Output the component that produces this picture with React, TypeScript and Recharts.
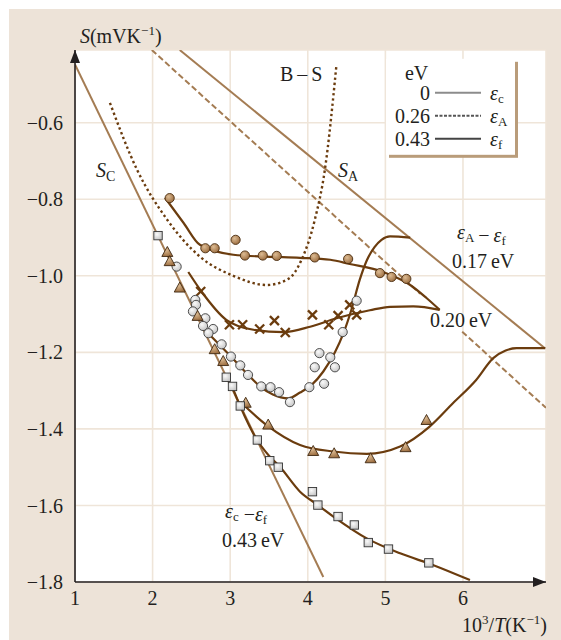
import React from "react";
import {
  ComposedChart, Line, Scatter, XAxis, YAxis, CartesianGrid, ReferenceDot,
} from "recharts";

type Pt = { x: number; y: number };

const serif = "'Liberation Serif', 'Times New Roman', serif";
const ink = "#231f20";
const tan = "#a47c53";
const brown = "#6b3c0e";

const xTicks = [1, 2, 3, 4, 5, 6];
const yTicks = [-1.8, -1.6, -1.4, -1.2, -1.0, -0.8, -0.6];

// limiting slopes S_C, S_A and the dashed asymptote (broken under the 0.20 eV label)
const scLine: Pt[] = [{ x: 1.0, y: -0.448 }, { x: 4.2, y: -1.787 }];
const saLine: Pt[] = [{ x: 2.35, y: -0.41 }, { x: 7.06, y: -1.19 }];
const dashUpper: Pt[] = [{ x: 1.99, y: -0.41 }, { x: 5.45, y: -1.047 }];
const dashLower: Pt[] = [{ x: 5.99, y: -1.146 }, { x: 7.07, y: -1.345 }];

// B–S curve (dotted)
const bsCurve: Pt[] = [
  { x: 1.45, y: -0.548 }, { x: 1.8, y: -0.723 }, { x: 2.19, y: -0.854 },
  { x: 2.61, y: -0.95 }, { x: 3.04, y: -1.0 }, { x: 3.47, y: -1.024 },
  { x: 3.75, y: -1.008 }, { x: 3.92, y: -0.958 }, { x: 4.09, y: -0.854 },
  { x: 4.22, y: -0.723 }, { x: 4.37, y: -0.448 },
];

// fitted curves
const brownFit: Pt[] = [
  { x: 2.16, y: -0.796 }, { x: 2.4, y: -0.862 }, { x: 2.61, y: -0.919 },
  { x: 3.04, y: -0.945 }, { x: 3.47, y: -0.95 }, { x: 3.9, y: -0.953 },
  { x: 4.29, y: -0.958 }, { x: 4.54, y: -0.969 }, { x: 4.97, y: -0.99 },
  { x: 5.32, y: -1.024 }, { x: 5.53, y: -1.058 }, { x: 5.7, y: -1.089 },
];
const crossFit: Pt[] = [
  { x: 2.46, y: -0.99 }, { x: 2.63, y: -1.041 }, { x: 2.95, y: -1.115 },
  { x: 3.3, y: -1.141 }, { x: 3.69, y: -1.147 }, { x: 4.03, y: -1.133 },
  { x: 4.37, y: -1.111 }, { x: 4.8, y: -1.09 }, { x: 5.06, y: -1.081 },
  { x: 5.36, y: -1.08 }, { x: 5.7, y: -1.089 },
];
const greyFit: Pt[] = [
  { x: 2.74, y: -1.155 }, { x: 3.01, y: -1.211 }, { x: 3.21, y: -1.254 },
  { x: 3.38, y: -1.288 }, { x: 3.55, y: -1.31 }, { x: 3.75, y: -1.32 },
  { x: 3.9, y: -1.305 }, { x: 4.05, y: -1.285 }, { x: 4.2, y: -1.25 },
  { x: 4.35, y: -1.2 }, { x: 4.46, y: -1.15 }, { x: 4.56, y: -1.09 },
  { x: 4.67, y: -1.01 }, { x: 4.76, y: -0.96 }, { x: 4.86, y: -0.925 },
  { x: 4.95, y: -0.906 }, { x: 5.06, y: -0.897 }, { x: 5.32, y: -0.9 },
];
const triFit: Pt[] = [
  { x: 3.13, y: -1.329 }, { x: 3.47, y: -1.39 }, { x: 3.9, y: -1.442 },
  { x: 4.33, y: -1.459 }, { x: 4.76, y: -1.465 }, { x: 5.19, y: -1.446 },
  { x: 5.57, y: -1.394 }, { x: 5.87, y: -1.333 }, { x: 6.17, y: -1.272 },
  { x: 6.39, y: -1.215 }, { x: 6.55, y: -1.195 }, { x: 6.69, y: -1.189 },
  { x: 7.06, y: -1.189 },
];
const squareFit: Pt[] = [
  { x: 3.04, y: -1.297 }, { x: 3.13, y: -1.341 }, { x: 3.34, y: -1.427 },
  { x: 3.5, y: -1.47 }, { x: 3.64, y: -1.499 }, { x: 3.9, y: -1.564 },
  { x: 4.13, y: -1.599 }, { x: 4.33, y: -1.629 }, { x: 4.76, y: -1.686 },
  { x: 5.19, y: -1.725 }, { x: 5.62, y: -1.756 }, { x: 6.09, y: -1.795 },
];

// measured points
const brownDots: Pt[] = [
  { x: 2.22, y: -0.797 }, { x: 2.68, y: -0.928 }, { x: 2.8, y: -0.928 },
  { x: 3.07, y: -0.906 }, { x: 3.19, y: -0.947 }, { x: 3.42, y: -0.947 },
  { x: 3.6, y: -0.948 }, { x: 4.09, y: -0.952 }, { x: 4.52, y: -0.956 },
  { x: 4.93, y: -0.993 }, { x: 5.08, y: -1.003 }, { x: 5.27, y: -1.008 },
];
const crosses: Pt[] = [
  { x: 2.62, y: -1.041 }, { x: 2.99, y: -1.128 }, { x: 3.16, y: -1.128 },
  { x: 3.38, y: -1.139 }, { x: 3.57, y: -1.117 }, { x: 3.71, y: -1.148 },
  { x: 4.06, y: -1.102 }, { x: 4.27, y: -1.128 }, { x: 4.39, y: -1.104 },
  { x: 4.54, y: -1.076 }, { x: 4.63, y: -1.102 },
];
const greyDots: Pt[] = [
  { x: 2.31, y: -0.976 }, { x: 2.55, y: -1.063 }, { x: 2.56, y: -1.076 },
  { x: 2.52, y: -1.093 }, { x: 2.68, y: -1.111 }, { x: 2.65, y: -1.131 },
  { x: 2.78, y: -1.139 }, { x: 2.72, y: -1.15 }, { x: 2.89, y: -1.179 },
  { x: 3.01, y: -1.211 }, { x: 3.13, y: -1.234 }, { x: 3.23, y: -1.259 },
  { x: 3.4, y: -1.289 }, { x: 3.52, y: -1.291 }, { x: 3.63, y: -1.304 },
  { x: 3.77, y: -1.33 }, { x: 4.02, y: -1.291 }, { x: 4.21, y: -1.282 },
  { x: 4.09, y: -1.239 }, { x: 4.15, y: -1.202 }, { x: 4.29, y: -1.213 },
  { x: 4.35, y: -1.239 }, { x: 4.45, y: -1.147 }, { x: 4.63, y: -1.065 },
];
const triangles: Pt[] = [
  { x: 2.19, y: -0.939 }, { x: 2.22, y: -0.963 }, { x: 2.35, y: -1.032 },
  { x: 2.58, y: -1.106 }, { x: 2.8, y: -1.193 }, { x: 2.91, y: -1.224 },
  { x: 3.2, y: -1.333 }, { x: 3.49, y: -1.39 }, { x: 4.07, y: -1.459 },
  { x: 4.34, y: -1.465 }, { x: 4.81, y: -1.478 }, { x: 5.26, y: -1.449 },
  { x: 5.53, y: -1.378 },
];
const squares: Pt[] = [
  { x: 2.07, y: -0.895 }, { x: 2.95, y: -1.265 }, { x: 3.03, y: -1.289 },
  { x: 3.13, y: -1.34 }, { x: 3.35, y: -1.429 }, { x: 3.51, y: -1.483 },
  { x: 3.62, y: -1.5 }, { x: 4.06, y: -1.564 }, { x: 4.13, y: -1.599 },
  { x: 4.39, y: -1.629 }, { x: 4.6, y: -1.651 }, { x: 4.78, y: -1.697 },
  { x: 5.04, y: -1.714 }, { x: 5.56, y: -1.75 },
];

// legend rows: energy (eV) and level name
const legendEnergy = ["0", "0.26", "0.43"];
const legendLevel = ["c", "A", "f"];
const legendStroke = ["#8c8c8c", "#555", "#444"];
const legendDash = [undefined, "3 1.5", undefined];

const BrownDot = (p: any) => (
  <circle cx={p.cx} cy={p.cy} r={4.6} fill="url(#gBrown)" stroke="#4a2c10" strokeWidth={0.9} />
);
const GreyDot = (p: any) => (
  <circle cx={p.cx} cy={p.cy} r={4.6} fill="url(#gGrey)" stroke="#3c3c3c" strokeWidth={0.9} />
);
const Cross = (p: any) => (
  <g stroke={brown} strokeWidth={2.3}>
    <line x1={p.cx - 4.5} y1={p.cy - 4.5} x2={p.cx + 4.5} y2={p.cy + 4.5} />
    <line x1={p.cx - 4.5} y1={p.cy + 4.5} x2={p.cx + 4.5} y2={p.cy - 4.5} />
  </g>
);
const Tri = (p: any) => (
  <polygon
    points={`${p.cx},${p.cy - 6} ${p.cx - 5.5},${p.cy + 4} ${p.cx + 5.5},${p.cy + 4}`}
    fill="url(#gBrown)" stroke="#3e2812" strokeWidth={0.9}
  />
);
const Square = (p: any) => (
  <rect x={p.cx - 4.2} y={p.cy - 4.2} width={8.4} height={8.4} fill="url(#gGrey)" stroke="#333" strokeWidth={0.9} />
);

function LegendBox(p: any) {
  const x = p.cx, y = p.cy;
  return (
    <g fontFamily={serif} fontSize={20} fill={ink}>
      <defs>
        <radialGradient id="gBrown" cx="38%" cy="35%" r="70%">
          <stop offset="0%" stopColor="#dcbb93" />
          <stop offset="100%" stopColor="#9a6b3d" />
        </radialGradient>
        <radialGradient id="gGrey" cx="38%" cy="35%" r="70%">
          <stop offset="0%" stopColor="#fafafa" />
          <stop offset="100%" stopColor="#c4c4c4" />
        </radialGradient>
      </defs>
      <rect x={x + 3} y={y + 3} width={129} height={96} fill="#b99c7a" />
      <rect x={x} y={y} width={129} height={96} fill="#fff" />
      <text x={x + 19} y={y + 21}>eV</text>
      {legendEnergy.map((e, i) => (
        <g key={e}>
          <text x={x + 44} y={y + 41 + i * 23} textAnchor="end">{e}</text>
          <line x1={x + 49} x2={x + 95} y1={y + 34 + i * 23} y2={y + 34 + i * 23}
            stroke={legendStroke[i]} strokeWidth={2} strokeDasharray={legendDash[i]} />
          <text x={x + 104} y={y + 41 + i * 23}>
            <tspan fontStyle="italic">ε</tspan>
            <tspan fontSize={13} dy={3}>{legendLevel[i]}</tspan>
          </text>
        </g>
      ))}
    </g>
  );
}

function note(key: string, x: number, y: number, body: React.ReactNode, anchor = "start") {
  return (
    <ReferenceDot
      key={key} x={x} y={y} ifOverflow="visible"
      shape={(p: any) => (
        <text x={p.cx} y={p.cy} textAnchor={anchor} fontFamily={serif} fontSize={20} fill={ink}>
          {body}
        </text>
      )}
    />
  );
}

const eps = (sub: string, k: string) => [
  <tspan key={k + "e"} fontStyle="italic">ε</tspan>,
  <tspan key={k + "s"} fontSize={13} dy={3}>{sub}</tspan>,
  <tspan key={k + "r"} dy={-3}>{""}</tspan>,
];

export default function App() {
  return (
    <div style={{ position: "absolute", left: 9, top: 9, width: 552, height: 631, background: "#ede3d8" }}>
      <ComposedChart width={552} height={631} margin={{ top: 41, right: 15, left: 0, bottom: 0 }}>
        <CartesianGrid fill="#fff" stroke="#efe5d9" strokeWidth={1.6} />
        <XAxis
          type="number" dataKey="x" domain={[1, 7.07]} ticks={xTicks} interval={0}
          allowDataOverflow height={58} tickSize={0} tickMargin={9}
          axisLine={{ stroke: ink, strokeWidth: 1.6 }}
          tick={{ fontFamily: serif, fontSize: 20, fill: ink }}
        />
        <YAxis
          type="number" dataKey="y" domain={[-1.8, -0.41]} ticks={yTicks} interval={0}
          allowDataOverflow width={66} tickSize={0} tickMargin={12}
          axisLine={{ stroke: ink, strokeWidth: 1.6 }}
          tick={{ fontFamily: serif, fontSize: 20, fill: ink }}
          tickFormatter={(v: number) => "\u2212" + Math.abs(v).toFixed(1)}
        />

        <Line data={scLine} dataKey="y" type="linear" stroke={tan} strokeWidth={2} dot={false} activeDot={false} isAnimationActive={false} />
        <Line data={saLine} dataKey="y" type="linear" stroke={tan} strokeWidth={2} dot={false} activeDot={false} isAnimationActive={false} />
        <Line data={dashUpper} dataKey="y" type="linear" stroke={tan} strokeWidth={2} strokeDasharray="6 3" dot={false} activeDot={false} isAnimationActive={false} />
        <Line data={dashLower} dataKey="y" type="linear" stroke={tan} strokeWidth={2} strokeDasharray="6 3" dot={false} activeDot={false} isAnimationActive={false} />
        <Line data={bsCurve} dataKey="y" type="monotone" stroke={brown} strokeWidth={2.4} strokeDasharray="2.4 2.8" dot={false} activeDot={false} isAnimationActive={false} />

        <Line data={brownFit} dataKey="y" type="monotone" stroke={brown} strokeWidth={2.2} dot={false} activeDot={false} isAnimationActive={false} />
        <Line data={crossFit} dataKey="y" type="monotone" stroke={brown} strokeWidth={2.2} dot={false} activeDot={false} isAnimationActive={false} />
        <Line data={greyFit} dataKey="y" type="monotone" stroke={brown} strokeWidth={2.2} dot={false} activeDot={false} isAnimationActive={false} />
        <Line data={triFit} dataKey="y" type="monotone" stroke={brown} strokeWidth={2.2} dot={false} activeDot={false} isAnimationActive={false} />
        <Line data={squareFit} dataKey="y" type="monotone" stroke={brown} strokeWidth={2.2} dot={false} activeDot={false} isAnimationActive={false} />

        <Scatter data={brownDots} shape={BrownDot} isAnimationActive={false} />
        <Scatter data={crosses} shape={Cross} isAnimationActive={false} />
        <Scatter data={greyDots} shape={GreyDot} isAnimationActive={false} />
        <Scatter data={triangles} shape={Tri} isAnimationActive={false} />
        <Scatter data={squares} shape={Square} isAnimationActive={false} />

        {/* legend box in the top right corner */}
        <ReferenceDot x={5.008} y={-0.433} ifOverflow="visible" shape={LegendBox} />

        {/* axis arrowheads */}
        <ReferenceDot x={1} y={-0.41} ifOverflow="visible"
          shape={(p: any) => <polygon points={`${p.cx},${p.cy} ${p.cx - 5},${p.cy + 13} ${p.cx + 5},${p.cy + 13}`} fill={ink} />} />
        <ReferenceDot x={7.07} y={-1.8} ifOverflow="visible"
          shape={(p: any) => <polygon points={`${p.cx},${p.cy} ${p.cx - 13},${p.cy - 5} ${p.cx - 13},${p.cy + 5}`} fill={ink} />} />

        {note("ytitle", 1.064, -0.391, [
          <tspan key="s" fontStyle="italic">S</tspan>,
          <tspan key="u">(mVK</tspan>,
          <tspan key="p" fontSize={13} dy={-8}>−1</tspan>,
          <tspan key="c" dy={8}>)</tspan>,
        ])}
        {note("xtitle", 7.082, -1.931, [
          <tspan key="a">10</tspan>,
          <tspan key="b" fontSize={13} dy={-8}>3</tspan>,
          <tspan key="c" dy={8}>/</tspan>,
          <tspan key="d" fontStyle="italic">T</tspan>,
          <tspan key="e">(K</tspan>,
          <tspan key="f" fontSize={13} dy={-8}>−1</tspan>,
          <tspan key="g" dy={8}>)</tspan>,
        ], "end")}
        {note("bs", 3.642, -0.49, "B\u2009–\u2009S")}
        {note("sc", 1.271, -0.741, [
          <tspan key="s" fontStyle="italic">S</tspan>,
          <tspan key="c" fontSize={14} dy={4}>C</tspan>,
        ])}
        {note("sa", 4.389, -0.741, [
          <tspan key="s" fontStyle="italic">S</tspan>,
          <tspan key="a" fontSize={14} dy={4}>A</tspan>,
        ])}
        {note("eaf", 5.923, -0.905, [...eps("A", "a"), <tspan key="m">{"\u2009−\u2009"}</tspan>, ...eps("f", "f")])}
        {note("e017", 5.858, -0.979, "0.17\u2009eV")}
        {note("e020", 5.575, -1.133, "0.20\u2009eV")}
        {note("ecf", 2.933, -1.633, [...eps("c", "c"), <tspan key="m">{" −"}</tspan>, ...eps("f", "f")])}
        {note("e043", 2.894, -1.708, "0.43\u2009eV")}
      </ComposedChart>
    </div>
  );
}
